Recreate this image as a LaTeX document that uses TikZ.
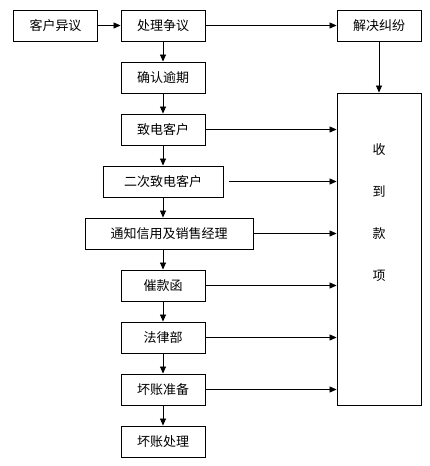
\documentclass[tikz,border=0pt]{standalone}
\usepackage{fontspec}
\setmainfont{Noto Sans CJK SC}
\usetikzlibrary{shapes.geometric,arrows.meta}
\tikzstyle{process} = [rectangle, minimum width=84pt, minimum height=31pt, inner sep=0pt, text centered, draw=black, line width=0.9pt, font=\fontsize{13pt}{16pt}\selectfont]
\tikzstyle{bigbox} = [rectangle, minimum width=84pt, minimum height=312pt, draw=black, line width=0.9pt]
\tikzstyle{bigtext} = [align=center, inner sep=0pt, font=\fontsize{13pt}{42pt}\selectfont]
\tikzstyle{arrow} = [line width=0.7pt, -{Triangle[length=7pt,width=6pt]}]

\begin{document}
\begin{tikzpicture}[node distance = 52pt]
\useasboundingbox (0pt,0pt) rectangle (429pt,-466pt);

\node (kehu) [process] at (55.5pt,-25.5pt) {客户异议};
\node (chuli) [process, right of=kehu, xshift=55.5pt] {处理争议};
\node (jiejue) [process, right of=chuli, xshift=164pt] {解决纠纷};
\node (queren) [process, below of=chuli] {确认逾期};
\node (zhidian) [process, below of=queren] {致电客户};
\node (erci) [process, below of=zhidian, minimum width=120pt] {二次致电客户};
\node (tongzhi) [process, below of=erci, xshift=6pt, minimum width=168pt] {通知信用及销售经理};
\node (cuikuan) [process, below of=erci, yshift=-52pt] {催款函};
\node (falv) [process, below of=cuikuan] {法律部};
\node (zhunbei) [process, below of=falv] {坏账准备};
\node (chuzhi) [process, below of=zhunbei] {坏账处理};
\node (shoukuan) [bigbox, below of=jiejue, yshift=-171.5pt] {};
\node (shoukuantext) [bigtext] at ([yshift=-119.5pt]shoukuan.north) {收\\到\\款\\项};

\draw [arrow] (kehu) -- (chuli);
\draw [arrow] (chuli) -- (jiejue);
\draw [arrow] (jiejue) -- (shoukuan);
\draw [arrow] (chuli) -- (queren);
\draw [arrow] (queren) -- (zhidian);
\draw [arrow] (zhidian) -- (erci);
\draw [arrow] (erci) -- (erci |- tongzhi.north);
\draw [arrow] (cuikuan |- tongzhi.south) -- (cuikuan);
\draw [arrow] (cuikuan) -- (falv);
\draw [arrow] (falv) -- (zhunbei);
\draw [arrow] (zhunbei) -- (chuzhi);
% to the right-hand box
\draw [arrow] (zhidian) -- (zhidian -| shoukuan.west);
\draw [arrow, shorten <=6pt] (erci) -- (erci -| shoukuan.west);
\draw [arrow] (tongzhi) -- (tongzhi -| shoukuan.west);
\draw [arrow] (cuikuan) -- (cuikuan -| shoukuan.west);
\draw [arrow] (falv) -- (falv -| shoukuan.west);
\draw [arrow] (zhunbei) -- (zhunbei -| shoukuan.west);

\end{tikzpicture}
\end{document}
